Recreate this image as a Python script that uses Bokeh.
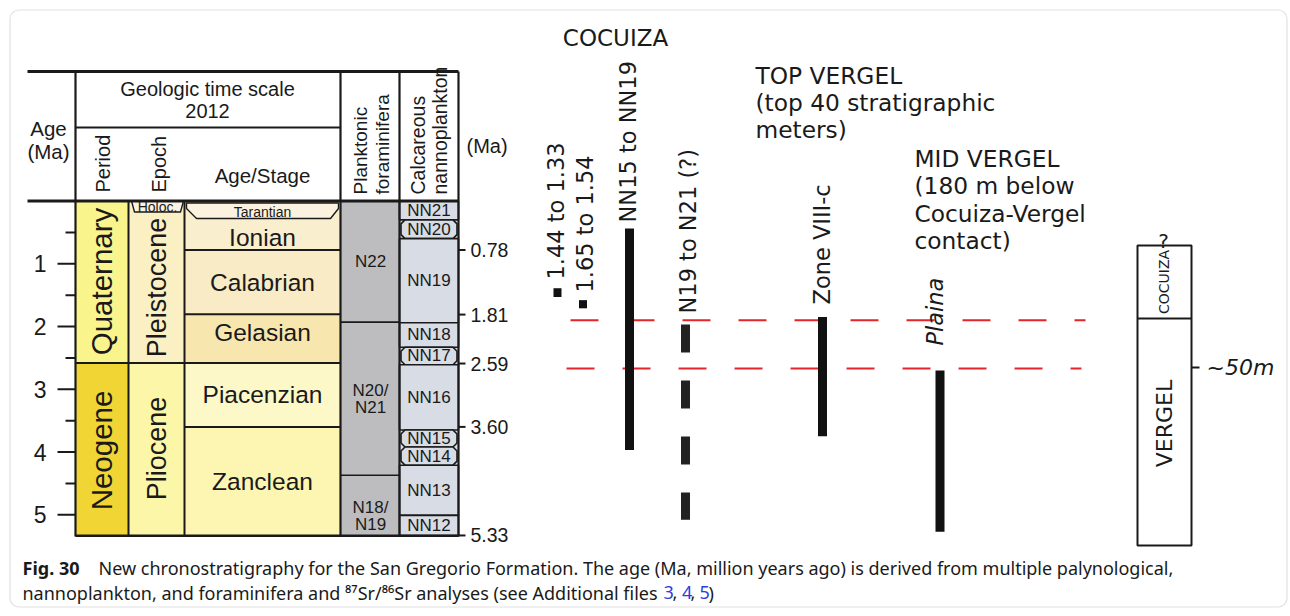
import numpy as np
from bokeh.plotting import figure
from bokeh.models import Range1d, BoxAnnotation
from bokeh.embed import file_html
from bokeh.resources import INLINE
from bokeh.core.properties import value

# ---------------- data (ages in Ma) ----------------
period_names = ["Quaternary", "Neogene"]
period_top = [0.0, 2.58]
period_base = [2.58, 5.333]

epoch_names = ["Pleistocene", "Pliocene"]
epoch_top = [0.0, 2.58]
epoch_base = [2.58, 5.333]

stage_names = ["Tarantian", "Ionian", "Calabrian", "Gelasian", "Piacenzian", "Zanclean"]
stage_top = [0.0, 0.126, 0.781, 1.806, 2.58, 3.6]
stage_base = [0.126, 0.781, 1.806, 2.58, 3.6, 5.333]

foram_names = ["N22", "N20/", "N18/"]
foram_names2 = ["", "N21", "N19"]
foram_top = [0.0, 1.93, 4.37]
foram_base = [1.93, 4.37, 5.333]

nanno_names = ["NN21", "NN20", "NN19", "NN18", "NN17", "NN16", "NN15", "NN14", "NN13", "NN12"]
nanno_top = [0.0, 0.30, 0.60, 1.94, 2.33, 2.61, 3.65, 3.92, 4.21, 5.01]
nanno_base = [0.30, 0.60, 1.94, 2.33, 2.61, 3.65, 3.92, 4.21, 5.01, 5.333]
nanno_boxed = [False, True, False, False, True, False, True, True, False, False]

age_major = [1, 2, 3, 4, 5]
age_minor = [0.5, 1.5, 2.5, 3.5, 4.5]
ma_ticks = [0.78, 1.81, 2.59, 3.60, 5.33]
ma_tick_labels = ["0.78", "1.81", "2.59", "3.60", "5.33"]

sr_labels = ["1.44 to 1.33", "1.65 to 1.54"]
sr_top = [1.39, 1.58]
sr_base = [1.53, 1.71]

range_labels = ["NN15 to NN19", "N19 to N21 (?)", "Zone VIII-c", "Plaina"]
range_top = [0.44, 1.97, 1.85, 2.70]
range_base = [3.97, 5.08, 3.75, 5.27]
range_dashed = [False, True, False, False]

correlation_ages = [1.90, 2.67]

column_units = ["COCUIZA", "VERGEL"]

# ---------------- layout / style ----------------
Y0 = 200.5          # page y of 0 Ma
PXMA = 62.75        # pixels per Ma
def Y(py):
    return (py - Y0) / PXMA

W, H = 1288, 610
p = figure(width=W, height=H, x_range=Range1d(0, W), y_range=Range1d(Y(H), Y(0)),
           output_backend="svg", toolbar_location=None, min_border=0,
           x_axis_type=None, y_axis_type=None, background_fill_color="white")
p.grid.visible = False
p.outline_line_color = None

# rounded frame
p.add_layout(BoxAnnotation(left=9.5, right=1286.5, top=Y(9.5), bottom=Y(606.5),
                           fill_color=None, line_color="#9a9a9a", line_width=1.2,
                           border_radius=9))

ARIAL = value("Liberation Sans")
VERD = value("DejaVu Sans")
CAPF = value("Noto Sans")
INK = "#1a1a1a"
HALF = np.pi / 2

def txt(x, y, s, size, font=ARIAL, align="center", base="middle", angle=0.0,
        style="normal", color=INK):
    p.text(x=[x], y=[y], text=[s], text_font=font, text_font_size=size,
           text_align=align, text_baseline=base, angle=angle,
           text_font_style=style, text_color=color)

# column x edges
XL, XP, XE, XS, XF, XN = 75, 128, 184, 340, 399, 458

period_colors = ["#FAF48C", "#F1D534"]
epoch_colors = ["#FAF0C4", "#FCF7A8"]
stage_colors = ["#F9EFCF", "#F9EFCF", "#F8EBC6", "#F7E6AE", "#FCF8C8", "#FCF6B2"]

p.quad(left=XL, right=XP, top=period_top, bottom=period_base, fill_color=period_colors, line_color=None)
p.quad(left=XP, right=XE, top=epoch_top, bottom=epoch_base, fill_color=epoch_colors, line_color=None)
p.quad(left=XE, right=XS, top=stage_top, bottom=stage_base, fill_color=stage_colors, line_color=None)
p.quad(left=XS, right=XF, top=foram_top, bottom=foram_base, fill_color="#BDBDC0", line_color=None)
p.quad(left=XF, right=XN, top=[0.0], bottom=[5.333], fill_color="#D8DCE5", line_color=None)

# nannoplankton zones (boxed ones chamfered)
cx, cy = 4.0, 4.0 / PXMA
xs, ys = [], []
for t, b, bx in zip(nanno_top, nanno_base, nanno_boxed):
    x0, x1 = XF + 1.5, XN - 1.5
    if bx:
        xs.append([x0 + cx, x1 - cx, x1, x1, x1 - cx, x0 + cx, x0, x0])
        ys.append([t, t, t + cy, b - cy, b, b, b - cy, t + cy])
    else:
        xs.append([XF, XN, XN, XF])
        ys.append([t, t, b, b])
p.patches(xs, ys, fill_color="#D8DCE5", line_color=INK, line_width=1.6)

# Holocene and Tarantian label boxes
p.patch([131, 183, 180, 134], [Y(200.5), Y(200.5), Y(211.5), Y(211.5)],
        fill_color="#FCF2E2", line_color=INK, line_width=1.4)
p.patch([186, 338, 338, 330, 196, 186], [Y(202.5), Y(202.5), Y(208), Y(218), Y(218), Y(208)],
        fill_color="#FBF3DF", line_color=INK, line_width=1.4)

# boundaries inside the columns
p.segment(x0=XL, x1=XP, y0=period_base[:-1], y1=period_base[:-1], line_color=INK, line_width=2)
p.segment(x0=XP, x1=XE, y0=epoch_base[:-1], y1=epoch_base[:-1], line_color=INK, line_width=2)
p.segment(x0=XE, x1=XS, y0=stage_base[1:-1], y1=stage_base[1:-1], line_color=INK, line_width=2)
p.segment(x0=XS, x1=XF, y0=foram_base[:-1], y1=foram_base[:-1], line_color=INK, line_width=1.6)

# table frame
p.segment(x0=[27, 27, XL, XL], x1=[XN, XN, XS, XN], y0=[Y(71), 0.0, Y(127), 5.333],
          y1=[Y(71), 0.0, Y(127), 5.333], line_color=INK, line_width=[3, 3, 2, 2.5])
p.segment(x0=[XL, XS, XF, XN], x1=[XL, XS, XF, XN], y0=Y(71), y1=5.345, line_color=INK, line_width=2.2)
p.segment(x0=[XP, XE], x1=[XP, XE], y0=0.0, y1=5.333, line_color=INK, line_width=2)

# age axis (left)
p.segment(x0=57, x1=XL, y0=age_major, y1=age_major, line_color=INK, line_width=2)
p.segment(x0=65, x1=XL, y0=age_minor, y1=age_minor, line_color=INK, line_width=2)
p.text(x=46, y=age_major, text=[str(a) for a in age_major], text_font=ARIAL,
       text_font_size="23px", text_align="right", text_baseline="middle", text_color=INK)

# Ma ticks (right)
p.segment(x0=XN, x1=465, y0=ma_ticks, y1=ma_ticks, line_color=INK, line_width=2)
p.text(x=470, y=ma_ticks, text=ma_tick_labels, text_font=ARIAL, text_font_size="19.5px",
       text_align="left", text_baseline="middle", text_color=INK)

# header texts
txt(48, Y(128), "Age", "20.5px")
txt(48, Y(151), "(Ma)", "20.5px")
txt(207, Y(88), "Geologic time scale", "20px")
txt(207, Y(110), "2012", "20px")
txt(102, Y(192), "Period", "20px", align="left", angle=HALF)
txt(158, Y(192), "Epoch", "20px", align="left", angle=HALF)
txt(262, Y(175), "Age/Stage", "20.5px")
txt(360, Y(194), "Planktonic", "19px", align="left", angle=HALF)
txt(382, Y(194), "foraminifera", "19px", align="left", angle=HALF)
txt(417, Y(194), "Calcareous", "19.5px", align="left", angle=HALF)
txt(439, Y(194), "nannoplankton", "19.5px", align="left", angle=HALF)
txt(466, Y(145), "(Ma)", "20px", align="left")

# column labels
txt(101, Y(281), period_names[0], "29.5px", angle=HALF)
txt(101, Y(450), period_names[1], "29.5px", angle=HALF)
txt(156, Y(287), epoch_names[0], "27px", angle=HALF)
txt(156, Y(448), epoch_names[1], "27px", angle=HALF)
txt(157, Y(206), "Holoc.", "14px")
txt(262, Y(211), stage_names[0], "14px")
stage_label_y = [None, 237, 282, 332, 394, 481]
for n, yy in zip(stage_names[1:], stage_label_y[1:]):
    txt(262, Y(yy), n, "24.5px")
foram_label_y = [261, 398, 515]
for n1, n2, yy in zip(foram_names, foram_names2, foram_label_y):
    if n2:
        txt(370, Y(yy - 8.5), n1, "17px")
        txt(370, Y(yy + 8.5), n2, "17px")
    else:
        txt(370, Y(yy), n1, "17px")
for n, t, b in zip(nanno_names, nanno_top, nanno_base):
    txt(428.5, (t + b) / 2, n, "17px")

# ---------------- right part ----------------
txt(615, Y(37), "COCUIZA", "23px", font=VERD)
for i, l in enumerate(["TOP VERGEL", "(top 40 stratigraphic", "meters)"]):
    txt(755, Y(75 + 27 * i), l, "23.3px", font=VERD, align="left")
for i, l in enumerate(["MID VERGEL", "(180 m below", "Cocuiza-Vergel", "contact)"]):
    txt(914, Y(158 + 27.3 * i), l, "23.3px", font=VERD, align="left")

# correlation lines
p.segment(x0=[570, 566], x1=[1085, 1081], y0=correlation_ages, y1=correlation_ages,
          line_color="#E3262B", line_width=2, line_dash=value("28 28"))

# Sr ages
sr_x = [557, 582.5]
p.quad(left=[x - 4 for x in sr_x], right=[x + 4 for x in sr_x], top=sr_top, bottom=sr_base,
       fill_color="#111111", line_color=None)
txt(555, Y(279), sr_labels[0], "22.5px", font=VERD, align="left", angle=HALF)
txt(584, Y(292), sr_labels[1], "22.5px", font=VERD, align="left", angle=HALF)

# biostratigraphic ranges
range_x = [629, 685, 822, 939.5]
for x, t, b, d in zip(range_x, range_top, range_base, range_dashed):
    if d:
        p.segment(x0=x, x1=x, y0=t, y1=b, line_color="#222222", line_width=9,
                  line_dash=value("28 28"), line_cap="butt")
    else:
        p.quad(left=x - 4.5, right=x + 4.5, top=t, bottom=b, fill_color="#111111", line_color=None)
label_anchor = [(627, 222), (687, 313), (821, 304), (934, 345)]
for (lx, ly), lab in zip(label_anchor, range_labels):
    st = "italic" if lab == "Plaina" else "normal"
    txt(lx, Y(ly), lab, "22.5px", font=VERD, align="left", angle=HALF, style=st)

# stratigraphic column
p.quad(left=1137, right=1191, top=Y(245), bottom=Y(545), fill_color="white",
       line_color=INK, line_width=2)
p.segment(x0=1137, x1=1191, y0=Y(318), y1=Y(318), line_color=INK, line_width=2)
txt(1163, Y(240), "?", "20px", font=VERD)
txt(1163, Y(281.5), column_units[0], "14px", font=VERD, angle=HALF)
txt(1164, Y(423), column_units[1], "22px", font=VERD, angle=HALF)
p.segment(x0=1191, x1=1199, y0=Y(367), y1=Y(367), line_color=INK, line_width=2)
txt(1206, Y(367), "~50m", "22px", font=VERD, align="left", style="italic")

# ---------------- caption ----------------
CAPS = "18px"
txt(22, Y(567), "Fig. 30", CAPS, font=CAPF, align="left", style="bold")
txt(98, Y(567), "New chronostratigraphy for the San Gregorio Formation. The age (Ma, million years ago) is derived from multiple palynological,",
    CAPS, font=CAPF, align="left")
txt(22, Y(592), "nannoplankton, and foraminifera and \u2078\u2077Sr/\u2078\u2076Sr analyses (see Additional files",
    CAPS, font=CAPF, align="left")
for s, x, c in [("3", 663, "#2B3FE0"), (",", 672, INK), ("4", 681.5, "#2B3FE0"), (",", 690, INK),
                ("5", 699, "#2B3FE0"), (")", 708, INK)]:
    txt(x, Y(592), s, CAPS, font=CAPF, align="left", color=c)

open("out.html", "w").write(file_html(p, INLINE))
